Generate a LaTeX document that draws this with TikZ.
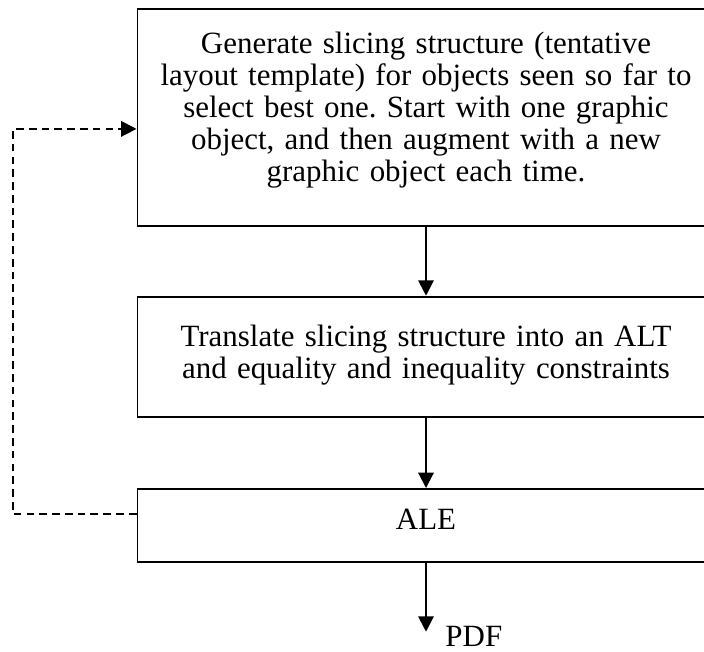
\documentclass[tikz,border=0pt]{standalone}
\usepackage{fontspec}
\setmainfont{Liberation Serif}
\usetikzlibrary{arrows.meta}
\frenchspacing

\begin{document}
\begin{tikzpicture}[x=0.43pt, y=-0.43pt,
  stagebox/.style={draw, line width=0.85pt, minimum width=248.1pt, inner sep=0pt},
  boxtext/.style={anchor=base, align=center, text width=262pt, inner sep=0pt,
    font=\fontsize{13.3pt}{13.76pt}\selectfont},
  flow/.style={line width=0.85pt, -{Triangle[length=6.6pt,width=6.6pt]}},
  fb/.style={line width=0.8pt, dash pattern=on 3.3pt off 2.2pt,
    -{Triangle[length=6.6pt,width=6.6pt]}}]
  \useasboundingbox (0,0) rectangle (704,651);
  \clip (0,0) rectangle (704,651);

  % process stages
  \node[stagebox, minimum height=93.05pt] (gen) at (426,117.5) {};
  \node[stagebox, minimum height=51.6pt]  (alt) at (426,356.7) {};
  \node[stagebox, minimum height=31.26pt] (ale) at (426,525.35) {};

  % stage descriptions
  \node[boxtext] (gentext) at (426,53.3)
    {Generate slicing structure (tentative\\
     layout template) for objects seen so far to\\
     select best one. Start with one graphic\\
     object, and then augment with a new\\
     graphic object each time.};
  \node[boxtext] (alttext) at (426,346.7)
    {Translate slicing structure into an ALT\\
     and equality and inequality constraints};
  \node[boxtext] (aletext) at (426,529) {ALE};

  % output
  \coordinate (pdftip) at (426,631.7);
  \node[anchor=base west, inner sep=0pt, font=\fontsize{13.3pt}{13.76pt}\selectfont]
    (pdf) at (445,646) {PDF};

  % main flow
  \draw[flow] (gen.south) -- (alt.north);
  \draw[flow] (alt.south) -- (ale.north);
  \draw[flow] (ale.south) -- (pdftip);

  % feedback loop back to the first stage
  \coordinate (fbout) at ([yshift=4.9pt]ale.west);
  \coordinate (fbin) at ([yshift=-4.9pt]gen.west);
  \coordinate (fbx) at (13,0);
  \draw[fb] (fbout) -- (fbout -| fbx) -- (fbin -| fbx) -- (fbin);
\end{tikzpicture}
\end{document}
